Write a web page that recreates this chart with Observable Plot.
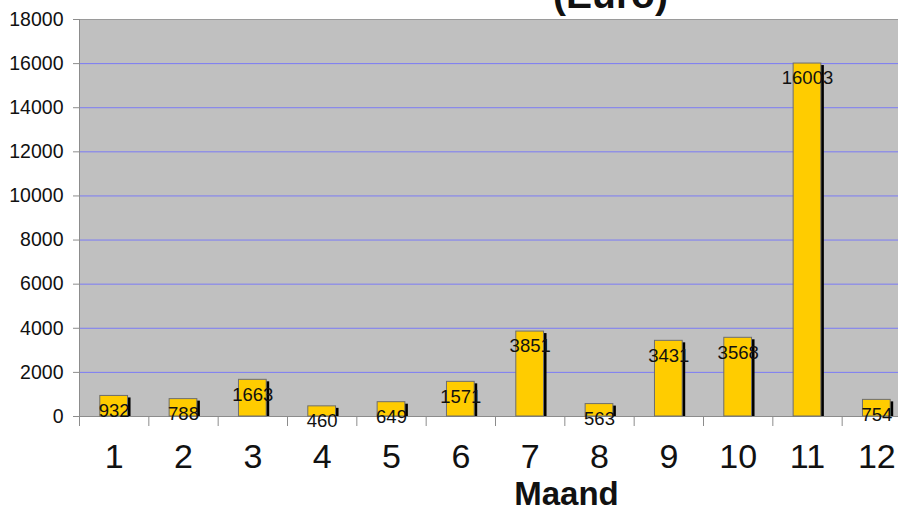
<!DOCTYPE html>
<html>
<head>
<meta charset="utf-8">
<script src="https://cdn.jsdelivr.net/npm/d3@7"></script>
<script src="https://cdn.jsdelivr.net/npm/@observablehq/plot@0.6"></script>
<style>
  html, body { margin: 0; padding: 0; background: #fff; overflow: hidden; }
</style>
</head>
<body>
<div id="chart"></div>
<script>
const months = [1, 2, 3, 4, 5, 6, 7, 8, 9, 10, 11, 12];
const values = [932, 788, 1663, 460, 649, 1571, 3851, 563, 3431, 3568, 16003, 754];
const yTicks = [0, 2000, 4000, 6000, 8000, 10000, 12000, 14000, 16000, 18000];
const titleText = "(Euro)";
const xTitle = "Maand";

const data = months.map((m, i) => ({ month: m, value: values[i] }));
const boundaries = months.map(m => m - 0.5).concat([months[months.length - 1] + 0.5]);
const half = 0.2;

const chart = Plot.plot({
  width: 898,
  height: 506,
  marginLeft: 79,
  marginRight: -13,
  marginTop: 19,
  marginBottom: 90,
  style: { fontFamily: "'Liberation Sans', Arial, sans-serif", background: "#fff", overflow: "visible" },
  x: { type: "linear", domain: [0.5, 12.5], axis: null, label: null },
  y: { domain: [0, 18000], axis: null, label: null },
  marks: [
    Plot.frame({ fill: "#C0C0C0", stroke: null }),
    Plot.ruleY(yTicks.filter(t => t > 0 && t < 18000), { stroke: "#7B7BF5", strokeWidth: 1 }),
    Plot.ruleY([18000], { stroke: "#9a9a9a", strokeWidth: 1 }),
    Plot.ruleY([0], { stroke: "#8c8c8c", strokeWidth: 1 }),
    Plot.ruleX([0.5], { stroke: "#8c8c8c", strokeWidth: 1 }),
    Plot.axisY({ ticks: yTicks, label: null, tickSize: 6, tickPadding: 10, fontSize: 19.5, stroke: "#8c8c8c", color: "#111", tickFormat: d => String(d) }),
    Plot.axisX({ ticks: boundaries, label: null, tickSize: 10, tickPadding: 0, tickFormat: () => "", stroke: "#8c8c8c" }),
    Plot.axisX({ ticks: months, label: null, tickSize: 0, tickPadding: 27, fontSize: 34, color: "#111", tickFormat: d => String(d) }),
    Plot.rectY(data, { x1: d => d.month - half, x2: d => d.month + half, y1: 0, y2: "value", fill: "#000", dx: 3, insetTop: 2 }),
    Plot.rectY(data, { x1: d => d.month - half, x2: d => d.month + half, y1: 0, y2: "value", fill: "#FFCC00", stroke: "#6e6e6e", strokeWidth: 1 }),
    Plot.text(data, { x: "month", y: "value", text: d => String(d.value), dy: 15, fontSize: 18.5, fill: "#111", lineAnchor: "middle" }),
    Plot.text([titleText], { frameAnchor: "top", dx: 115, dy: -12, lineAnchor: "bottom", fontSize: 39, fontWeight: "bold", fill: "#111" }),
    Plot.text([xTitle], { frameAnchor: "bottom", dx: 71, dy: 88, lineAnchor: "bottom", fontSize: 33, fontWeight: "bold", fill: "#111" })
  ]
});
document.getElementById("chart").appendChild(chart);
</script>
</body>
</html>
